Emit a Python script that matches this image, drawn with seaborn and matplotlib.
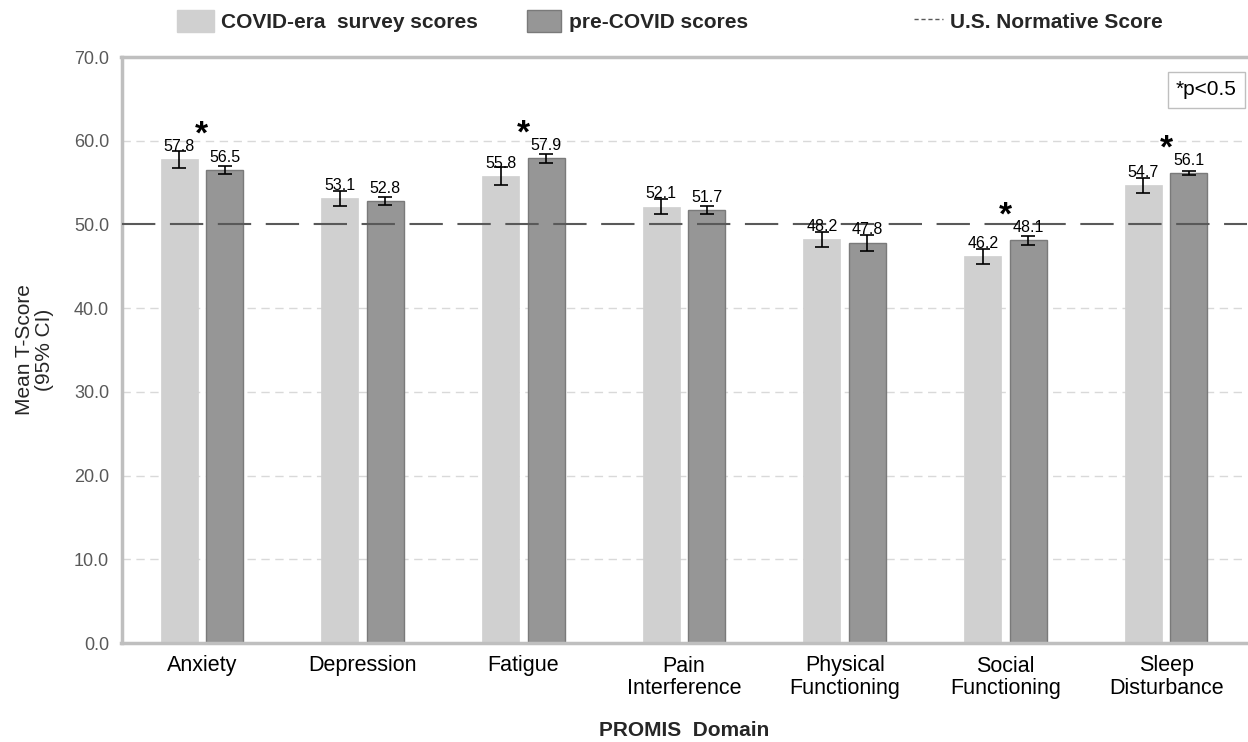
import matplotlib
matplotlib.use("Agg")
import matplotlib.pyplot as plt
import seaborn as sns
import pandas as pd
import numpy as np
from matplotlib.patches import Patch
from matplotlib.lines import Line2D

domains = ["Anxiety", "Depression", "Fatigue", "Pain\nInterference",
           "Physical\nFunctioning", "Social\nFunctioning", "Sleep\nDisturbance"]
covid_scores = [57.8, 53.1, 55.8, 52.1, 48.2, 46.2, 54.7]
pre_scores = [56.5, 52.8, 57.9, 51.7, 47.8, 48.1, 56.1]
covid_ci = [1.0, 0.9, 1.1, 0.9, 0.9, 0.9, 0.9]
pre_ci = [0.5, 0.5, 0.55, 0.5, 0.95, 0.5, 0.25]
significant = [True, False, True, False, False, True, True]
series_names = ["COVID-era  survey scores", "pre-COVID scores"]
normative_label = "U.S. Normative Score"
normative = 50.0
yticks = [0, 10, 20, 30, 40, 50, 60, 70]

sns.set_theme(style="white")
plt.rcParams['font.family'] = ['Liberation Sans', 'DejaVu Sans']

df = pd.DataFrame({
    "domain": domains * 2,
    "score": covid_scores + pre_scores,
    "series": [series_names[0]] * len(domains) + [series_names[1]] * len(domains),
})

LIGHT = "#d0d0d0"
DARK = "#969696"
DARK_EDGE = "#7a7a7a"

fig = plt.figure(figsize=(12.48, 7.42), dpi=100)
ax = fig.add_axes([121.5/1248, (742-643)/742, 1125/1248, (643-57)/742])

colors = {series_names[0]: LIGHT, series_names[1]: DARK}
sns.barplot(data=df, x="domain", y="score", hue="series", palette=colors,
            width=0.566, gap=0.187, errorbar=None, ax=ax, legend=False, zorder=2)

vals = covid_scores + pre_scores
cis = covid_ci + pre_ci
for i, p in enumerate(ax.patches[:len(vals)]):
    if i >= len(domains):
        p.set_edgecolor(DARK_EDGE)
        p.set_linewidth(1.0)
    else:
        p.set_edgecolor(LIGHT)
        p.set_linewidth(0.5)
    cx = p.get_x() + p.get_width() / 2
    h = p.get_height()
    ax.errorbar(cx, h, yerr=cis[i], fmt="none", ecolor="black", elinewidth=1.2,
                capsize=5, capthick=1.2, zorder=4)
    ax.text(cx, h + 1.0, f"{vals[i]:.1f}", ha="center", va="baseline",
            fontsize=11.5, color="black", zorder=5)

for j, sig in enumerate(significant):
    if sig:
        top = max(covid_scores[j], pre_scores[j])
        ax.text(j, top + 1.9, "*", ha="center", va="baseline", fontsize=24,
                fontweight="bold", color="black", zorder=5)

for yv in yticks[1:-1]:
    if yv != normative:
        ax.axhline(yv, color="#d9d9d9", lw=1.0, ls=(0, (6, 4)), zorder=1)
ax.axhline(normative, color="#595959", lw=1.5, ls=(0, (16, 7)), zorder=3)

ax.set_ylim(0, 70)
ax.set_xlim(-0.5, len(domains) - 0.5)
ax.set_yticks(yticks)
ax.set_yticklabels([f"{v:.1f}" for v in yticks], fontsize=13, color="#595959")
ax.tick_params(axis="y", length=0, pad=9)
ax.tick_params(axis="x", length=0, pad=9, labelsize=15.5, labelcolor="black")
for t in ax.get_xticklabels():
    t.set_linespacing(1.08)
ax.set_xlabel("PROMIS  Domain", fontsize=15, fontweight="bold", labelpad=16)
ax.set_ylabel("Mean T-Score\n(95% CI)", fontsize=15, labelpad=14, linespacing=1.1)

for name, s in ax.spines.items():
    s.set_visible(name != "right")
    s.set_color("#bfbfbf")
    s.set_linewidth(2.5)

ax.text(0.9915, 0.96, "*p<0.5", transform=ax.transAxes, ha="right", va="top",
        fontsize=15, color="black",
        bbox=dict(boxstyle="square,pad=0.4", fc="white", ec="#bfbfbf", lw=1.0))

legend_items = [
    (Patch(facecolor=LIGHT, edgecolor=LIGHT), series_names[0], 177, 1.78),
    (Patch(facecolor=DARK, edgecolor=DARK_EDGE), series_names[1], 527, 1.65),
    (Line2D([0], [0], color="#595959", lw=1.0, ls=(0, (3, 2))), normative_label, 914, 1.4),
]
for h, lab, x0, hl in legend_items:
    fig.legend([h], [lab], loc="center left", bbox_to_anchor=(x0/1248, 1 - 21/742),
               frameon=False, handlelength=hl, handleheight=1.25,
               handletextpad=0.35, borderpad=0, borderaxespad=0,
               prop={"weight": "bold", "size": 15})

fig.savefig("out.png", dpi=100)
